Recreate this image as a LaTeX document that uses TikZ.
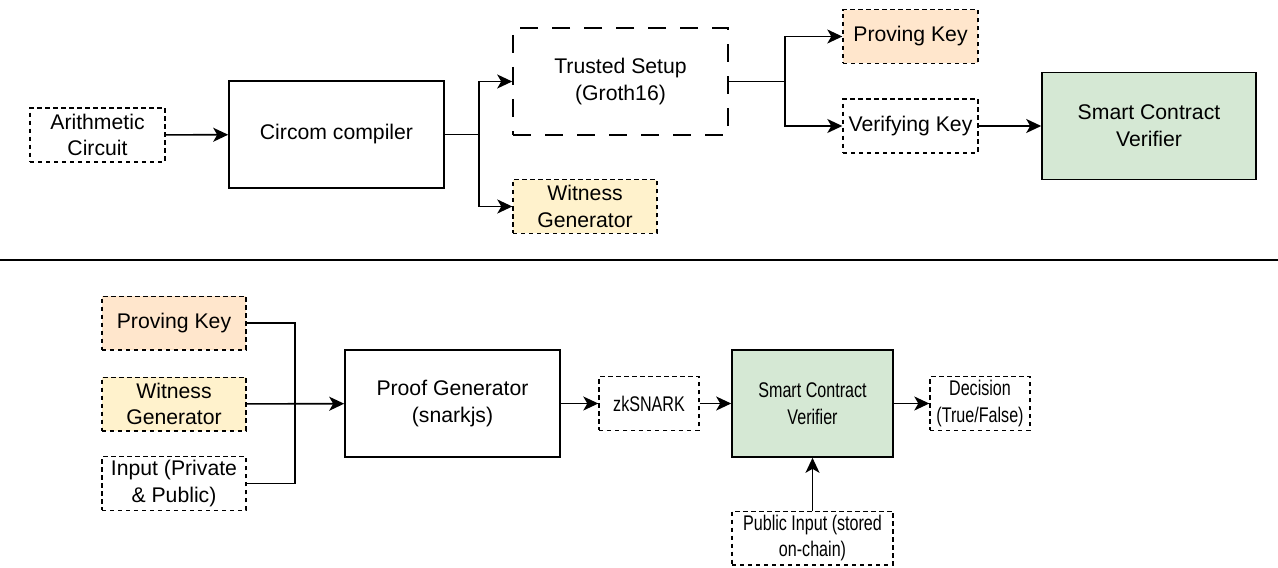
\documentclass[tikz,border=0pt]{standalone}
\usepackage{fontspec}
\setmainfont{Liberation Sans}
\newfontfamily\narrowfont[FakeStretch=0.76]{Liberation Sans}
\usetikzlibrary{arrows.meta}

\definecolor{keyorange}{HTML}{FFE6CC}
\definecolor{wityellow}{HTML}{FFF2CC}
\definecolor{verigreen}{HTML}{D5E8D4}

\tikzset{
  block/.style={draw, line width=0.8pt, align=center, inner sep=1pt,
    minimum width=107.5pt, minimum height=53.5pt},
  datum/.style={draw, line width=0.7pt, dash pattern=on 2.2pt off 1.8pt,
    align=center, inner sep=1pt, minimum height=26.8pt},
  narrow/.style={font=\fontsize{10.6}{13.3}\narrowfont},
  flow/.style={line width=0.8pt, -{Stealth[length=7.5pt,width=7pt,inset=2pt]}},
  wire/.style={line width=0.8pt}
}

\begin{document}
\begin{tikzpicture}[x=0.5pt,y=-0.5pt,font=\fontsize{10.6}{13.3}\selectfont]
\useasboundingbox (0,0) rectangle (1278,567);

% setup phase
\node[datum, minimum width=67.5pt] (arith) at (97.5,135) {Arithmetic\\Circuit};
\node[block] (circom) at (336.5,134.5) {Circom compiler};
\node[block, dash pattern=on 9pt off 7pt] (trusted) at (620.5,81.5) {Trusted Setup\\(Groth16)};
\node[datum, fill=wityellow, minimum width=72pt] (witA) at (585,206.5) {Witness\\Generator};
\node[datum, fill=keyorange, minimum width=67.5pt] (pkA) at (910.5,36.5) {Proving Key};
\node[datum, minimum width=67.5pt] (vkA) at (910.5,126) {Verifying Key};
\node[block, fill=verigreen, minimum width=107pt] (scvA) at (1149,126) {Smart Contract\\Verifier};

\coordinate (forkA) at (479,134.5);
\coordinate (forkB) at (785,81.5);
\draw[flow] (arith) -- (circom);
\draw[wire] (circom) -- (forkA);
\draw[flow] (forkA) |- (trusted.west);
\draw[flow] (forkA) |- (witA.west);
\draw[wire] (trusted) -- (forkB);
\draw[flow] (forkB) |- (pkA.west);
\draw[flow] (forkB) |- (vkA.west);
\draw[flow] (vkA) -- (scvA);

% separator
\draw[line width=0.7pt] (0,260) -- (1278,260);

% proving phase
\node[datum, fill=keyorange, minimum width=72pt] (pkB) at (174,323) {Proving Key};
\node[datum, fill=wityellow, minimum width=72pt] (witB) at (174,404) {Witness\\Generator};
\node[datum, minimum width=72pt] (inp) at (174,483.5) {Input (Private\\\& Public)};
\node[block] (proof) at (452.5,403.5) {Proof Generator\\(snarkjs)};
\node[datum, narrow, minimum width=50pt] (zk) at (649,403.5) {zkSNARK};
\node[block, narrow, fill=verigreen, minimum width=80.5pt] (scvB) at (812.5,403.5) {Smart Contract\\Verifier};
\node[datum, narrow, minimum width=50pt] (dec) at (980,403.5) {Decision\\(True/False)};
\node[datum, narrow, minimum width=80.5pt] (pub) at (812.5,538) {Public Input (stored\\on-chain)};

\coordinate (merge) at (295,404);
\draw[wire] (pkB.east) -| (merge);
\draw[wire] (inp.east) -| (merge);
\draw[flow] (witB) -- (proof);
\draw[flow] (proof) -- (zk);
\draw[flow] (zk) -- (scvB);
\draw[flow] (scvB) -- (dec);
\draw[flow] (pub) -- (scvB);
\end{tikzpicture}
\end{document}
